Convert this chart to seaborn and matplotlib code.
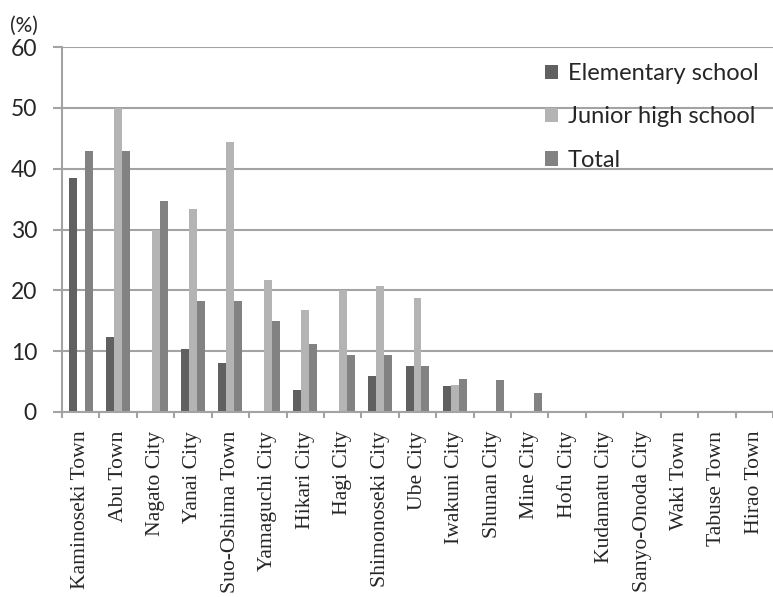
import numpy as np
import pandas as pd
import matplotlib
matplotlib.use("Agg")
import matplotlib.pyplot as plt
import seaborn as sns

# Share of schools (%) by municipality
municipalities = [
    "Kaminoseki Town", "Abu Town", "Nagato City", "Yanai City",
    "Suo-Oshima Town", "Yamaguchi City", "Hikari City", "Hagi City",
    "Shimonoseki City", "Ube City", "Iwakuni City", "Shunan City",
    "Mine City", "Hofu City", "Kudamatu City", "Sanyo-Onoda City",
    "Waki Town", "Tabuse Town", "Hirao Town",
]
elementary = [38.5, 12.3, 0.0, 10.4, 8.1, 0.0, 3.6, 0.0, 5.9, 7.5,
              4.2, 0.0, 0.0, 0.0, 0.0, 0.0, 0.0, 0.0, 0.0]
junior_high = [0.0, 50.0, 30.0, 33.3, 44.4, 21.7, 16.7, 20.0, 20.7, 18.8,
               4.5, 0.0, 0.0, 0.0, 0.0, 0.0, 0.0, 0.0, 0.0]
total = [42.9, 42.9, 34.7, 18.2, 18.2, 14.9, 11.1, 9.4, 9.4, 7.5,
         5.5, 5.2, 3.2, 0.0, 0.0, 0.0, 0.0, 0.0, 0.0]
series_names = ["Elementary school", "Junior high school", "Total"]
y_ticks = [0, 10, 20, 30, 40, 50, 60]

df = pd.DataFrame({
    "municipality": municipalities * 3,
    "series": np.repeat(series_names, len(municipalities)),
    "value": elementary + junior_high + total,
})

sns.set_style("white")
plt.rcParams["font.family"] = ["Lato", "DejaVu Sans"]

W, H = 773, 597
fig = plt.figure(figsize=(W / 100, H / 100), dpi=100)
ax = fig.add_axes([62 / W, 1 - 412 / H, (W - 62) / W, 365 / H])

palette = ["#606060", "#b4b4b4", "#828282"]
sns.barplot(data=df, x="municipality", y="value", hue="series",
            hue_order=series_names, order=municipalities, palette=palette,
            width=0.64, gap=0, linewidth=0, saturation=1, ax=ax, legend=True)

grid_col = "#a3a3a3"
ax.set_axisbelow(True)
ax.yaxis.grid(True, color=grid_col, linewidth=1.5)
ax.xaxis.grid(False)
for side in ["top", "right"]:
    ax.spines[side].set_visible(False)
for side in ["left", "bottom"]:
    ax.spines[side].set_color(grid_col)
    ax.spines[side].set_linewidth(1.5)

ax.set_ylim(0, 60)
ax.set_xlim(-0.5, -0.5 + (W - 62) / 37.9)
ax.set_yticks(y_ticks)
ax.set_yticklabels([str(v) for v in y_ticks], fontsize=16.5)
ax.tick_params(axis="y", direction="out", length=6.5, width=1.5,
               color=grid_col, pad=11.5, left=True)

n = len(municipalities)
ax.set_xticks(np.arange(-0.5, n, 1.0))
ax.set_xticklabels([])
ax.tick_params(axis="x", which="major", direction="out", length=4.3,
               width=1.5, color=grid_col, bottom=True)
ax.set_xticks(np.arange(n), minor=True)
ax.set_xticklabels(municipalities, minor=True, rotation=90,
                   fontsize=15.6, family="Liberation Serif")
ax.tick_params(axis="x", which="minor", length=0, pad=13.5)

ax.set_xlabel("")
ax.set_ylabel("")

handles, labels = ax.get_legend_handles_labels()
ax.legend(handles, labels, loc="upper left",
          bbox_to_anchor=(545 / W, 1 - 63 / H), bbox_transform=fig.transFigure,
          frameon=False, fontsize=17, handlelength=0.55, handleheight=0.55,
          handletextpad=0.42, labelspacing=0.95, borderpad=0, borderaxespad=0)

fig.text(10 / W, 1 - 26 / H, "(%)", fontsize=15, ha="left", va="center")

fig.savefig("out.png", dpi=100)
